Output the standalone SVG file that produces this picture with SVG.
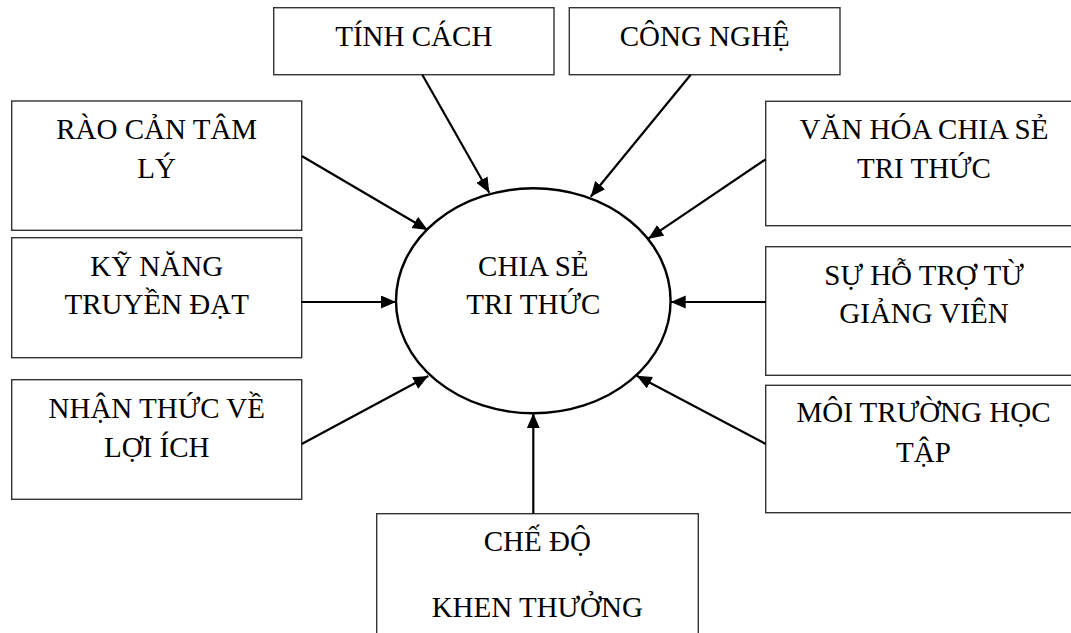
<svg xmlns="http://www.w3.org/2000/svg" width="1071" height="633" viewBox="0 0 1071 633">
<style>
.box{fill:#fff;stroke:#333;stroke-width:1.4}
.t{font-size:29px;fill:#000;text-anchor:middle}
.c{stroke:#000;stroke-width:2.2;fill:none}
</style>
<defs>
<marker id="ah" markerUnits="userSpaceOnUse" markerWidth="16" markerHeight="14" refX="15" refY="6.5" orient="auto">
<path d="M0,0 L15,6.5 L0,13 z" fill="#000"/>
</marker>
</defs>
<rect width="1071" height="633" fill="#fff"/>
<g font-family="'Liberation Serif', 'DejaVu Serif', serif">
<g id="center">
<ellipse cx="533.3" cy="300.8" rx="137.3" ry="112.5" fill="#fff" stroke="#000" stroke-width="2.4"/>
<text class="t" x="533.3" y="276">CHIA SẺ</text>
<text class="t" x="533.3" y="314">TRI THỨC</text>
</g>
<g id="tinh-cach">
<rect class="box" x="273.7" y="7.7" width="280.3" height="67"/>
<text class="t" x="413.8" y="46">TÍNH CÁCH</text>
</g>
<g id="cong-nghe">
<rect class="box" x="569.3" y="7.7" width="270.7" height="67"/>
<text class="t" x="704.7" y="46">CÔNG NGHỆ</text>
</g>
<g id="rao-can">
<rect class="box" x="11.7" y="101" width="290" height="129.3"/>
<text class="t" x="156.7" y="139">RÀO CẢN TÂM</text>
<text class="t" x="156.7" y="177.7">LÝ</text>
</g>
<g id="ky-nang">
<rect class="box" x="11.7" y="237.7" width="290" height="120"/>
<text class="t" x="156.7" y="276">KỸ NĂNG</text>
<text class="t" x="156.7" y="314">TRUYỀN ĐẠT</text>
</g>
<g id="nhan-thuc">
<rect class="box" x="11.7" y="379.7" width="290" height="119.6"/>
<text class="t" x="156.7" y="417.7">NHẬN THỨC VỀ</text>
<text class="t" x="156.7" y="456.7">LỢI ÍCH</text>
</g>
<g id="van-hoa">
<rect class="box" x="765.7" y="101.3" width="320" height="124.4"/>
<text class="t" x="924" y="139">VĂN HÓA CHIA SẺ</text>
<text class="t" x="924" y="177.7">TRI THỨC</text>
</g>
<g id="su-ho-tro">
<rect class="box" x="765.7" y="246.7" width="320" height="128.6"/>
<text class="t" x="924" y="285">SỰ HỖ TRỢ TỪ</text>
<text class="t" x="924" y="323">GIẢNG VIÊN</text>
</g>
<g id="moi-truong">
<rect class="box" x="765.7" y="385.3" width="320" height="127.4"/>
<text class="t" x="923.5" y="422.3">MÔI TRƯỜNG HỌC</text>
<text class="t" x="923.5" y="461.7">TẬP</text>
</g>
<g id="che-do">
<rect class="box" x="376.7" y="513.7" width="321.6" height="140"/>
<text class="t" x="537.3" y="551">CHẾ ĐỘ</text>
<text class="t" x="537.3" y="617.3">KHEN THƯỞNG</text>
</g>
</g>
<g id="connectors">
<line class="c" x1="422.3" y1="74.7" x2="489.3" y2="192.7" marker-end="url(#ah)"/>
<line class="c" x1="690.7" y1="74.7" x2="590.7" y2="196.7" marker-end="url(#ah)"/>
<line class="c" x1="301.7" y1="156" x2="427.7" y2="230" marker-end="url(#ah)"/>
<line class="c" x1="301.7" y1="302" x2="396" y2="302" marker-end="url(#ah)"/>
<line class="c" x1="301.7" y1="444" x2="428.3" y2="376" marker-end="url(#ah)"/>
<line class="c" x1="765.7" y1="159.3" x2="648.3" y2="238.7" marker-end="url(#ah)"/>
<line class="c" x1="765.7" y1="302" x2="670.7" y2="302" marker-end="url(#ah)"/>
<line class="c" x1="765.7" y1="444" x2="636.7" y2="375.7" marker-end="url(#ah)"/>
<line class="c" x1="533.3" y1="513.7" x2="533.3" y2="413.3" marker-end="url(#ah)"/>
</g>
</svg>
